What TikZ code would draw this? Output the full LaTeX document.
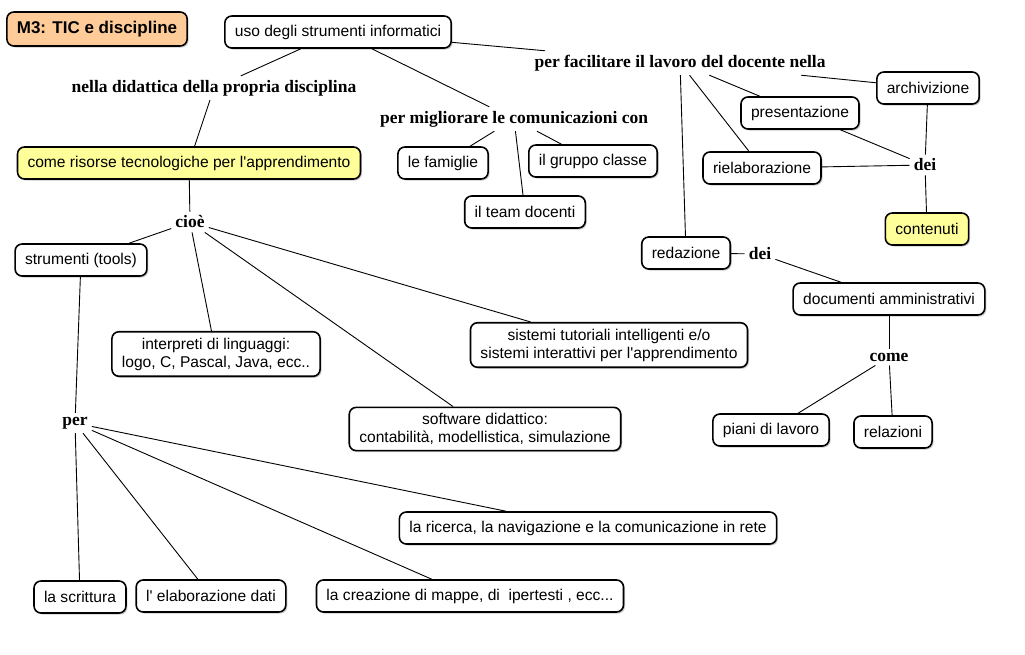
\documentclass[tikz,border=0pt]{standalone}
\usepackage{fontspec}
\setsansfont{Liberation Sans}
\newfontfamily\linkfont{Liberation Serif}
\usetikzlibrary{shadows}
\definecolor{titleorange}{HTML}{FFCC99}
\definecolor{conceptyellow}{HTML}{FFFF99}

\begin{document}
\begin{tikzpicture}[x=1pt,y=-1pt,
    concept/.style={draw,line width=1.6pt,rounded corners=7pt,fill=white,align=center,
      font=\sffamily\fontsize{15.6}{18}\selectfont,inner xsep=10pt,inner ysep=6pt,minimum height=32pt,
      drop shadow={shadow xshift=1.5pt,shadow yshift=-1.5pt,fill=black!35,opacity=0.6}},
    linking/.style={font=\linkfont\bfseries\fontsize{17.5}{20}\selectfont,inner sep=4pt},
    link/.style={line width=0.9pt}]
    \useasboundingbox[fill=white] (0,0) rectangle (1025,654);
    \node[concept,fill=titleorange,font=\sffamily\bfseries\fontsize{17}{20}\selectfont,minimum height=34pt] (title) at (97,29) {M3: TIC e discipline};
    \node[concept] (uso) at (338,32) {uso degli strumenti informatici};
    \node[linking] (didattica) at (214,88) {nella didattica della propria disciplina};
    \node[concept,fill=conceptyellow] (risorse) at (189,163) {come risorse tecnologiche per l\textquotesingle apprendimento};
    \node[linking] (facilitare) at (680,63) {per facilitare il lavoro del docente nella};
    \node[linking] (migliorare) at (514,119) {per migliorare le comunicazioni con};
    \node[concept] (famiglie) at (443,163) {le famiglie};
    \node[concept] (gruppo) at (593,161) {il gruppo classe};
    \node[concept] (team) at (525,212) {il team docenti};
    \node[concept] (archiv) at (928,88) {archivizione};
    \node[concept] (present) at (800,113) {presentazione};
    \node[concept] (rielab) at (762,168) {rielaborazione};
    \node[linking] (deiA) at (925,165) {dei};
    \node[concept,fill=conceptyellow] (contenuti) at (927,229) {contenuti};
    \node[concept] (redazione) at (686,253) {redazione};
    \node[linking] (deiB) at (760,254) {dei};
    \node[concept] (documenti) at (889,299) {documenti amministrativi};
    \node[linking] (come) at (889,357) {come};
    \node[concept] (piani) at (771,430) {piani di lavoro};
    \node[concept] (relazioni) at (893,432) {relazioni};
    \node[linking] (cioe) at (190,222) {cioè};
    \node[concept] (strumenti) at (81,260) {strumenti (tools)};
    \node[concept] (interpreti) at (216,354) {interpreti di linguaggi:\\logo, C, Pascal, Java, ecc..};
    \node[concept] (tutoriali) at (609,345) {sistemi tutoriali intelligenti e/o\\sistemi interattivi per l\textquotesingle apprendimento};
    \node[concept] (software) at (485,429) {software didattico:\\contabilità, modellistica, simulazione};
    \node[linking] (per) at (75,423) {per};
    \node[concept] (scrittura) at (80,597) {la scrittura};
    \node[concept] (elaborazione) at (211,596) {l\textquotesingle{} elaborazione dati};
    \node[concept] (ricerca) at (588,528) {la ricerca, la navigazione e la comunicazione in rete};
    \node[concept] (mappe) at (470,596) {la creazione di mappe, di\ \ ipertesti , ecc...};
    \draw[link] (uso) -- (didattica);
    \draw[link] (didattica) -- (risorse);
    \draw[link] (risorse) -- (cioe);
    \draw[link] (uso) -- (migliorare);
    \draw[link] (uso) -- (facilitare);
    \draw[link] (migliorare) -- (famiglie);
    \draw[link] (migliorare) -- (team);
    \draw[link] (migliorare) -- (gruppo);
    \draw[link] (facilitare) -- (archiv);
    \draw[link] (facilitare) -- (present);
    \draw[link] (facilitare) -- (rielab);
    \draw[link] (facilitare) -- (redazione);
    \draw[link] (archiv) -- (deiA);
    \draw[link] (present) -- (deiA);
    \draw[link] (rielab) -- (deiA);
    \draw[link] (deiA) -- (contenuti);
    \draw[link] (redazione) -- (deiB);
    \draw[link] (deiB) -- (documenti);
    \draw[link] (documenti) -- (come);
    \draw[link] (come) -- (piani);
    \draw[link] (come) -- (relazioni);
    \draw[link] (cioe) -- (strumenti);
    \draw[link] (cioe) -- (interpreti);
    \draw[link] (cioe) -- (tutoriali);
    \draw[link] (cioe) -- (software);
    \draw[link] (strumenti) -- (per);
    \draw[link] (per) -- (scrittura);
    \draw[link] (per) -- (elaborazione);
    \draw[link] (per) -- (mappe);
    \draw[link] (per) -- (ricerca);
  \end{tikzpicture}
\end{document}
